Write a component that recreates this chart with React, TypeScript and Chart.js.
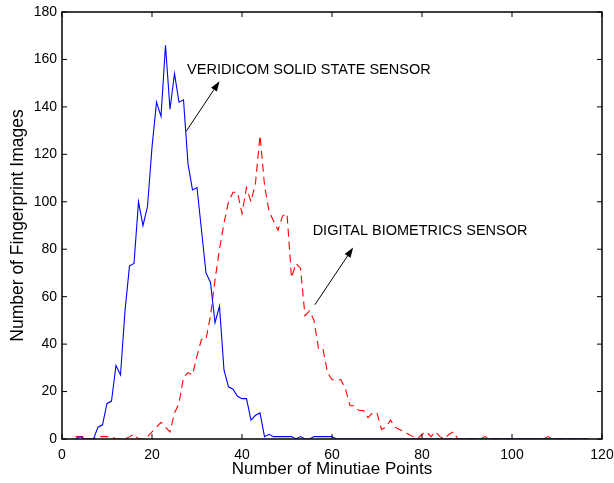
import React, { useEffect, useRef } from "react";
import { Chart, registerables } from "chart.js";

Chart.register(...registerables);

const minutiae: number[] = [];
for (let m = 3; m <= 117; m++) minutiae.push(m);

// x = 3 .. 117
const veridicom = [
  0, 1, 0, 0, 0, 5, 6, 15, 16, 31, 27, 54, 73, 74, 100, 90, 98, 123, 142, 136,
  166, 139, 154, 142, 143, 116, 105, 106, 88, 70, 66, 49, 56, 29, 22, 21, 18, 17, 17, 8,
  10, 11, 1, 2, 1, 1, 1, 1, 1, 0, 1, 0, 0, 1, 1, 1, 1, 1, 0, 0,
  0, 0, 0, 0, 0, 0, 0, 0, 0, 0, 0, 0, 0, 0, 0, 0, 0, 0, 0, 0,
  0, 0, 0, 0, 0, 0, 0, 0, 0, 0, 0, 0, 0, 0, 0, 0, 0, 0, 0, 0,
  0, 0, 0, 0, 0, 0, 0, 0, 0, 0, 0, 0, 0, 0, 0,
];

const digitalBiometrics = [
  1, 1, 1, 0, 0, 1, 1, 1, 1, 0, 0, 0, 1, 2, 0, 0, 1, 3, 5, 7,
  5, 3, 11, 15, 26, 28, 27, 35, 42, 42, 52, 67, 80, 91, 100, 104, 104, 95, 106, 100,
  108, 128, 107, 96, 92, 88, 94, 95, 68, 74, 72, 52, 54, 50, 38, 38, 28, 25, 25, 25,
  21, 14, 14, 12, 12, 9, 11, 11, 4, 5, 8, 5, 4, 3, 2, 1, 0, 2, 3, 1,
  3, 1, 0, 2, 3, 0, 0, 0, 0, 0, 0, 1, 0, 0, 0, 0, 0, 0, 0, 0,
  0, 0, 0, 0, 0, 1, 0, 0, 0, 0, 0, 0, 0, 0, 0,
];

const xTicks = [0, 20, 40, 60, 80, 100, 120];
const yTicks = [0, 20, 40, 60, 80, 100, 120, 140, 160, 180];

const xTitle = "Number of Minutiae Points";
const yTitle = "Number of Fingerprint Images";

const labelVeridicom = "VERIDICOM SOLID STATE SENSOR";
const labelVeridicomAt = [27.8, 155.5];
const arrowVeridicom = [27.6, 129.7, 35.0, 150.8];

const labelDigital = "DIGITAL BIOMETRICS SENSOR";
const labelDigitalAt = [55.7, 87.8];
const arrowDigital = [56.2, 56.6, 64.7, 80.7];

const FONT = "'Liberation Sans', Arial, Helvetica, sans-serif";

const decorPlugin = {
  id: "matlabDecor",
  afterDatasetsDraw(chart: any) {
    const { ctx, chartArea } = chart;
    const xs = chart.scales.x;
    const ys = chart.scales.y;
    const { left, right, top, bottom } = chartArea;
    ctx.save();
    // box
    ctx.strokeStyle = "#000";
    ctx.lineWidth = 1.5;
    ctx.strokeRect(left, top, right - left, bottom - top);
    // inward ticks
    ctx.lineWidth = 1;
    const tl = 5;
    ctx.beginPath();
    xTicks.forEach((v) => {
      const p = xs.getPixelForValue(v);
      ctx.moveTo(p, bottom);
      ctx.lineTo(p, bottom - tl);
      ctx.moveTo(p, top);
      ctx.lineTo(p, top + tl);
    });
    yTicks.forEach((v) => {
      const p = ys.getPixelForValue(v);
      ctx.moveTo(left, p);
      ctx.lineTo(left + tl, p);
      ctx.moveTo(right, p);
      ctx.lineTo(right - tl, p);
    });
    ctx.stroke();

    // annotations
    const drawArrow = (a: number[]) => {
      const x1 = xs.getPixelForValue(a[0]);
      const y1 = ys.getPixelForValue(a[1]);
      const x2 = xs.getPixelForValue(a[2]);
      const y2 = ys.getPixelForValue(a[3]);
      const ang = Math.atan2(y2 - y1, x2 - x1);
      const hl = 10;
      const hw = 3.5;
      const bx = x2 - hl * Math.cos(ang);
      const by = y2 - hl * Math.sin(ang);
      ctx.strokeStyle = "#000";
      ctx.lineWidth = 1;
      ctx.beginPath();
      ctx.moveTo(x1, y1);
      ctx.lineTo(bx, by);
      ctx.stroke();
      ctx.fillStyle = "#000";
      ctx.beginPath();
      ctx.moveTo(x2, y2);
      ctx.lineTo(bx + hw * Math.sin(ang), by - hw * Math.cos(ang));
      ctx.lineTo(bx - hw * Math.sin(ang), by + hw * Math.cos(ang));
      ctx.closePath();
      ctx.fill();
    };
    drawArrow(arrowVeridicom);
    drawArrow(arrowDigital);

    ctx.fillStyle = "#000";
    ctx.font = `14.5px ${FONT}`;
    ctx.textAlign = "left";
    ctx.textBaseline = "middle";
    ctx.fillText(
      labelVeridicom,
      xs.getPixelForValue(labelVeridicomAt[0]),
      ys.getPixelForValue(labelVeridicomAt[1])
    );
    ctx.fillText(
      labelDigital,
      xs.getPixelForValue(labelDigitalAt[0]),
      ys.getPixelForValue(labelDigitalAt[1])
    );
    ctx.restore();
  },
};

export default function App() {
  const canvasRef = useRef<HTMLCanvasElement | null>(null);

  useEffect(() => {
    if (!canvasRef.current) return;
    const chart = new Chart(canvasRef.current, {
      type: "line",
      data: {
        datasets: [
          {
            label: "Veridicom",
            data: minutiae.map((m, i) => ({ x: m, y: veridicom[i] })),
            borderColor: "#0000ff",
            borderWidth: 1.1,
            pointRadius: 0,
            tension: 0,
            fill: false,
          },
          {
            label: "Digital Biometrics",
            data: minutiae.map((m, i) => ({ x: m, y: digitalBiometrics[i] })),
            borderColor: "#ff0000",
            borderWidth: 1.1,
            borderDash: [8, 5],
            pointRadius: 0,
            tension: 0,
            fill: false,
          },
        ],
      },
      options: {
        animation: false,
        responsive: false,
        devicePixelRatio: 1,
        layout: { padding: { top: 12, right: 0, left: 0, bottom: 0 } },
        plugins: {
          legend: { display: false },
          tooltip: { enabled: false },
        },
        scales: {
          x: {
            type: "linear",
            min: 0,
            max: 120,
            afterBuildTicks: (s: any) => {
              s.ticks = xTicks.map((v) => ({ value: v }));
            },
            afterFit: (s: any) => {
              s.height = 44;
              s.paddingRight = 12;
              s.paddingLeft = 0;
            },
            grid: { display: false, drawTicks: false },
            border: { display: false },
            ticks: {
              color: "#000",
              padding: 8,
              maxRotation: 0,
              font: { family: FONT, size: 14 },
            },
            title: {
              display: true,
              text: xTitle,
              color: "#000",
              font: { family: FONT, size: 17 },
              padding: { top: 0, bottom: 3 },
            },
          },
          y: {
            type: "linear",
            min: 0,
            max: 180,
            afterBuildTicks: (s: any) => {
              s.ticks = yTicks.map((v) => ({ value: v }));
            },
            afterFit: (s: any) => {
              s.width = 62;
              s.paddingTop = 0;
              s.paddingBottom = 0;
            },
            grid: { display: false, drawTicks: false },
            border: { display: false },
            ticks: {
              color: "#000",
              padding: 5,
              font: { family: FONT, size: 14 },
            },
            title: {
              display: true,
              text: yTitle,
              color: "#000",
              font: { family: FONT, size: 17.5 },
              padding: { top: 8, bottom: 0 },
            },
          },
        },
      },
      plugins: [decorPlugin],
    });
    return () => chart.destroy();
  }, []);

  return (
    <div
      style={{
        position: "absolute",
        left: 0,
        top: 0,
        width: 614,
        height: 483,
        background: "#fff",
      }}
    >
      <canvas
        ref={canvasRef}
        width={614}
        height={483}
        style={{ display: "block", width: 614, height: 483 }}
      />
    </div>
  );
}
